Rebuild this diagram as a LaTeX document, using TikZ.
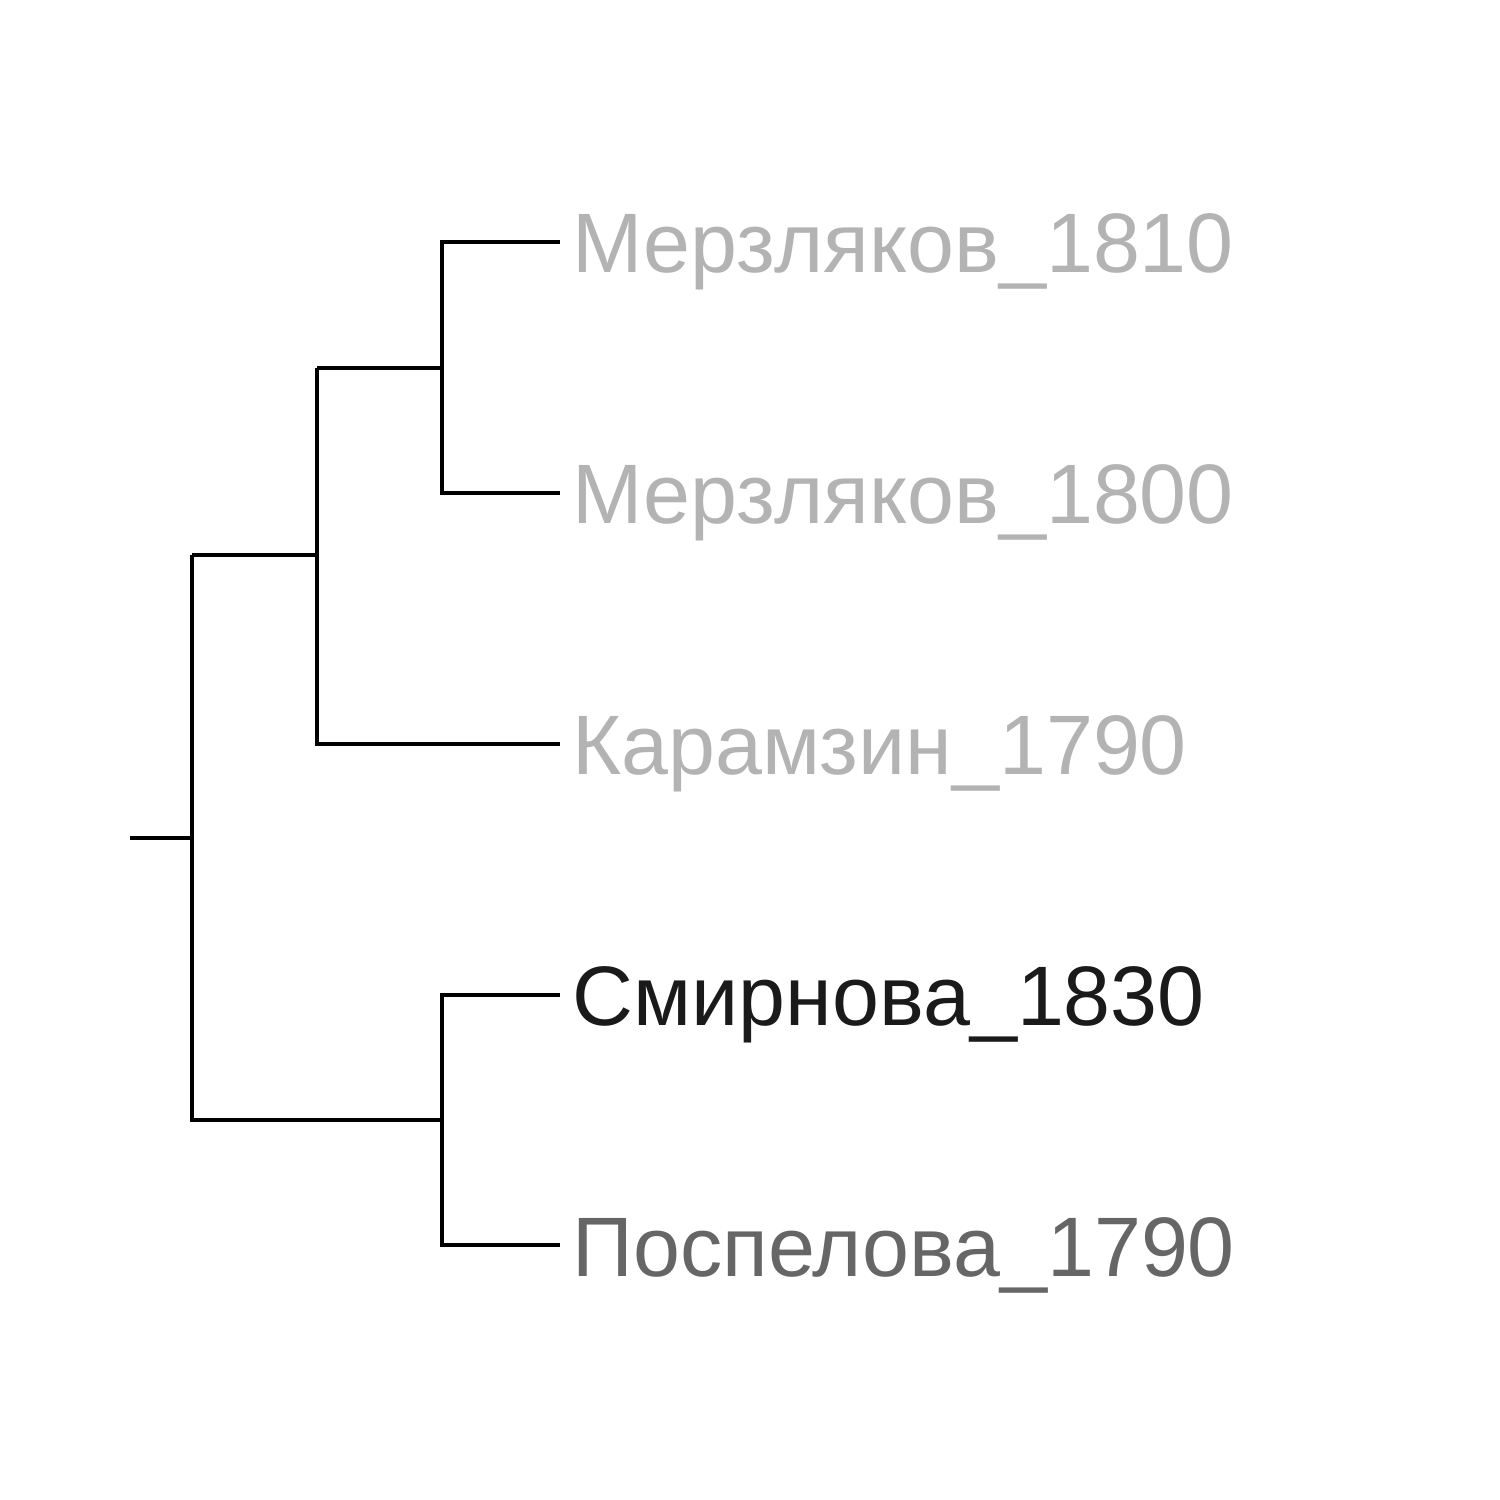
\documentclass[tikz,border=0pt]{standalone}
\usepackage{fontspec}
\setmainfont{Liberation Sans}
\usetikzlibrary{positioning}
\definecolor{leafgrey}{HTML}{B3B3B3}
\definecolor{leafmid}{HTML}{666666}
\definecolor{leafdark}{HTML}{1A1A1A}

\begin{document}
\begin{tikzpicture}[
  x=0.01cm,y=-0.01cm,
  branch/.style={line width=1.1pt,draw=black},
  leaf/.style={inner sep=0pt,font=\fontsize{24}{28}\selectfont,yshift=-0.1cm}
]
\useasboundingbox (0,0) rectangle (1500,1500);
% tree nodes
\coordinate (root) at (192,838);
\coordinate (stub) at (130,838);
\coordinate (upper) at (317,555);
\coordinate (merz) at (442,368);
\coordinate (lower) at (442,1120);
% leaf tips
\coordinate (t1810) at (560,242);
\coordinate (t1800) at (560,493);
\coordinate (tkar) at (560,744);
\coordinate (tsmi) at (560,995);
\coordinate (tpos) at (560,1245);
% labels
\node[leaf,text=leafgrey,right=12 of t1810] (l1810) {Мерзляков\_1810};
\node[leaf,text=leafgrey,right=12 of t1800] (l1800) {Мерзляков\_1800};
\node[leaf,text=leafgrey,right=12 of tkar] (lkar) {Карамзин\_1790};
\node[leaf,text=leafdark,right=12 of tsmi] (lsmi) {Смирнова\_1830};
\node[leaf,text=leafmid,right=12 of tpos] (lpos) {Поспелова\_1790};

\draw[branch] (stub) -- (root);
\draw[branch] (root |- upper) -- (upper) (root |- upper) -- (root |- lower) -- (lower);
\draw[branch] (upper |- merz) -- (merz) (upper |- merz) -- (upper |- tkar) -- (tkar);
\draw[branch] (t1810) -- (merz |- t1810) -- (merz |- t1800) -- (t1800);
\draw[branch] (tsmi) -- (lower |- tsmi) -- (lower |- tpos) -- (tpos);
\end{tikzpicture}
\end{document}
